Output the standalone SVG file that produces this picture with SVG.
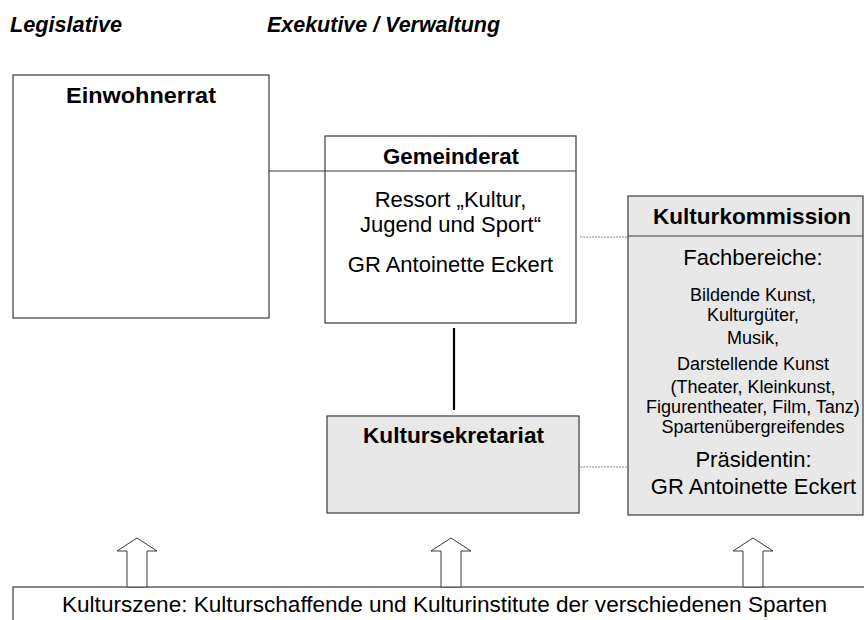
<svg xmlns="http://www.w3.org/2000/svg" width="864" height="620" viewBox="0 0 864 620">
<style>
  .box{stroke:#3a3a3a;stroke-width:1.2;}
  .white{fill:#ffffff;}
  .grey{fill:#e8e8e8;}
  .t{font-family:"Liberation Sans",Arial,sans-serif;fill:#000;text-anchor:middle;}
  .b{font-weight:bold;font-size:22px;}
  .r{font-size:22px;}
  .s{font-size:18px;}
  .h{font-family:"Liberation Sans",Arial,sans-serif;font-weight:bold;font-style:italic;font-size:21.5px;fill:#000;}
  .dot{stroke:#8a8a8a;stroke-width:1;stroke-dasharray:2 1;fill:none;}
  .arrow{fill:#fff;stroke:#3a3a3a;stroke-width:1;}
</style>
<rect x="0" y="0" width="864" height="620" fill="#ffffff"/>

<text class="h" x="10" y="32" textLength="112" lengthAdjust="spacingAndGlyphs">Legislative</text>
<text class="h" x="267" y="32" textLength="233" lengthAdjust="spacingAndGlyphs">Exekutive / Verwaltung</text>

<g id="connectors">
  <line x1="269" y1="171" x2="325" y2="171" stroke="#3a3a3a" stroke-width="1.2"/>
  <line x1="454" y1="328" x2="454" y2="410" stroke="#000" stroke-width="2.2"/>
  <line class="dot" x1="580" y1="237" x2="628" y2="237"/>
  <line class="dot" x1="580" y1="467" x2="628" y2="467"/>
</g>

<g id="einwohnerrat">
  <rect class="box white" x="13" y="75" width="256" height="243"/>
  <text class="t b" x="141" y="103" textLength="150" lengthAdjust="spacingAndGlyphs">Einwohnerrat</text>
</g>

<g id="gemeinderat">
  <rect class="box white" x="325" y="136" width="251" height="187"/>
  <line x1="325" y1="171" x2="576" y2="171" stroke="#3a3a3a" stroke-width="1.2"/>
  <text class="t b" x="451" y="164" textLength="136" lengthAdjust="spacingAndGlyphs">Gemeinderat</text>
  <text class="t r" x="450.5" y="207">Ressort „Kultur,</text>
  <text class="t r" x="450.5" y="232">Jugend und Sport“</text>
  <text class="t r" x="450.5" y="272">GR Antoinette Eckert</text>
</g>

<g id="kultursekretariat">
  <rect class="box grey" x="327" y="416" width="252" height="97"/>
  <text class="t b" x="453.5" y="443" textLength="181" lengthAdjust="spacingAndGlyphs">Kultursekretariat</text>
</g>

<g id="kulturkommission">
  <rect class="box grey" x="628" y="196" width="235" height="319"/>
  <line x1="628" y1="236" x2="863" y2="236" stroke="#3a3a3a" stroke-width="1.2"/>
  <text class="t b" x="752" y="224" textLength="198" lengthAdjust="spacingAndGlyphs">Kulturkommission</text>
  <text class="t r" x="753" y="265">Fachbereiche:</text>
  <text class="t s" x="753" y="301">Bildende Kunst,</text>
  <text class="t s" x="753" y="321">Kulturgüter,</text>
  <text class="t s" x="753" y="344">Musik,</text>
  <text class="t s" x="753" y="370">Darstellende Kunst</text>
  <text class="t s" x="753" y="393">(Theater, Kleinkunst,</text>
  <text class="t s" x="753" y="413">Figurentheater, Film, Tanz)</text>
  <text class="t s" x="753" y="433">Spartenübergreifendes</text>
  <text class="t r" x="753.5" y="467">Präsidentin:</text>
  <text class="t r" x="753.5" y="494">GR Antoinette Eckert</text>
</g>

<g id="kulturszene">
  <rect class="box white" x="13" y="587" width="870" height="50"/>
  <text class="t r" x="444.5" y="612" textLength="765" lengthAdjust="spacingAndGlyphs">Kulturszene: Kulturschaffende und Kulturinstitute der verschiedenen Sparten</text>
</g>

<g id="arrows">
  <polygon class="arrow" points="127,587 127,551 117,551 137,538 157,551 147,551 147,587"/>
  <polygon class="arrow" points="441,587 441,551 431,551 451,538 471,551 461,551 461,587"/>
  <polygon class="arrow" points="743,587 743,551 733,551 753,538 773,551 763,551 763,587"/>
</g>
</svg>
